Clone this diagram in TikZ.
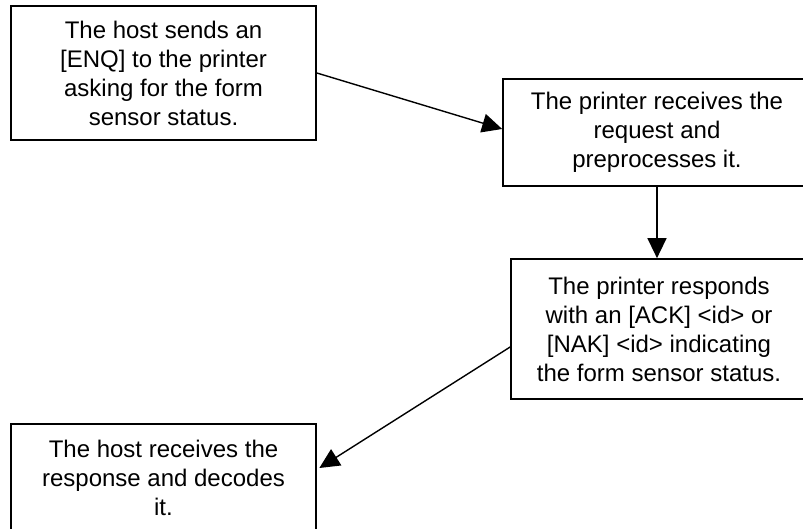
\documentclass[tikz,border=0pt]{standalone}
\usepackage{fontspec}
\setmainfont{Liberation Sans}
\usetikzlibrary{arrows.meta,calc}
\begin{document}
\begin{tikzpicture}[x=1pt,y=-1pt,
  box/.style={draw=black,line width=1.7pt,fill=white,inner sep=0pt,align=center,
    font=\fontsize{24}{29}\selectfont},
  txt/.style={inner sep=0pt,align=center,font=\fontsize{24}{29}\selectfont},
  arr/.style={line width=1.4pt,-{Triangle[length=20pt,width=19pt]}}]
\clip (0,0) rectangle (803,529);
\fill[white] (0,0) rectangle (803,529);
\node[box,minimum width=305pt,minimum height=134pt] (b1) at (163.5,73)
  {The host sends an\\\relax[ENQ] to the printer\\asking for the form\\sensor status.};
\node[box,minimum width=308pt,minimum height=107pt] (b2) at (657,132.5)
  {The printer receives the\\request and\\preprocesses it.};
\node[box,minimum width=296pt,minimum height=140pt] (b3) at (659,329)
  {The printer responds\\with an [ACK] <id> or\\\relax[NAK] <id> indicating\\the form sensor status.};
\node[box,minimum width=305pt,minimum height=146pt] (b4) at (163.5,497) {};
\node[txt] (b4t) at (163.5,478) {The host receives the\\response and decodes\\it.};
\coordinate (a1e) at ($(b2.west)+(0,-3.5)$);
\coordinate (a3s) at ($(b3.west)+(0,18)$);
\coordinate (a3e) at ($(b4.east)+(2.5,-29)$);
\draw[arr] (b1.east) -- (a1e);
\draw[arr] (b2.south) -- (b2.south |- b3.north);
\draw[arr] (a3s) -- (a3e);
\end{tikzpicture}
\end{document}
